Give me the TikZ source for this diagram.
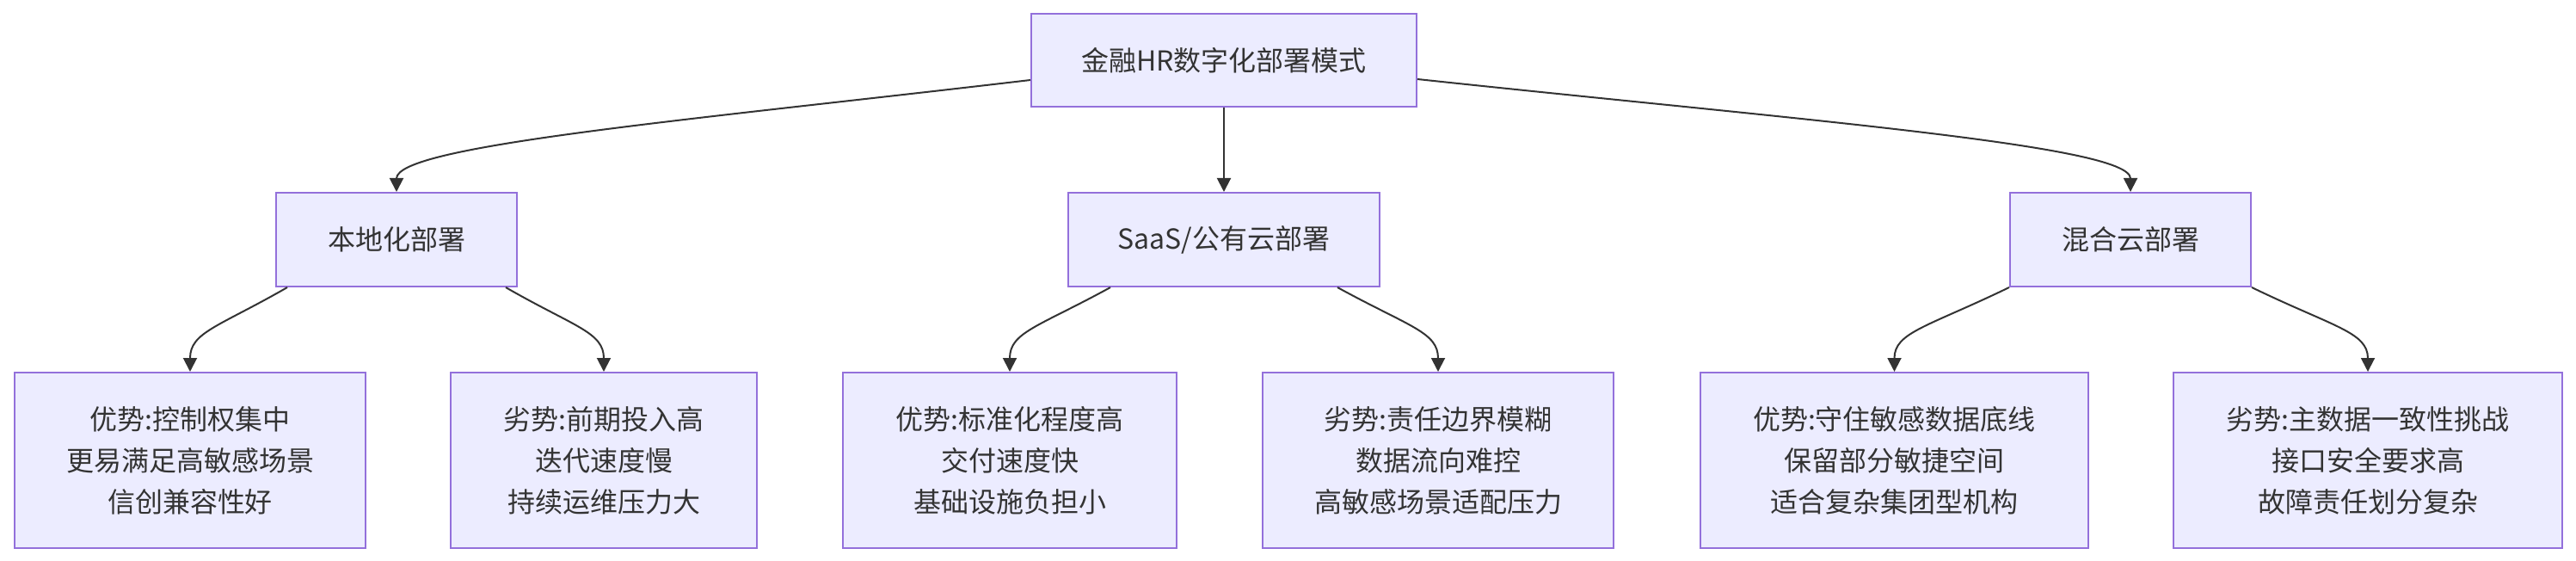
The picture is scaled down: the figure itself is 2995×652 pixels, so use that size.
\documentclass[tikz,border=0pt]{standalone}
\usepackage{fontspec}
\setmainfont{Noto Sans CJK SC}
\usetikzlibrary{arrows.meta}

\begin{document}
\begin{tikzpicture}[x=0.5pt, y=-0.5pt,
    modeBox/.style={draw=borderColour, fill=fillColour, line width=1pt, text=textColour,
        align=center, inner sep=0pt, font=\fontsize{16pt}{24pt}\selectfont},
    levelOne/.style={modeBox, minimum height=54.5pt},
    levelTwo/.style={modeBox, minimum height=102pt},
    link/.style={draw=lineColour, line width=1pt, -{Triangle[length=8pt, width=8pt]}}]

    \definecolor{borderColour}{HTML}{9370DB}
    \definecolor{fillColour}{HTML}{ECECFF}
    \definecolor{lineColour}{HTML}{333333}
    \definecolor{textColour}{HTML}{333333}

    % Fix the canvas size
    \useasboundingbox (0,0) rectangle (2995,652);

    % Draw the root
    \node[modeBox, minimum width=224pt, minimum height=54pt] (root) at (1423,70) {金融HR数字化部署模式};

    % Draw the deployment modes
    \node[levelOne, minimum width=140pt] (local) at (461,278.5) {本地化部署};
    \node[levelOne, minimum width=181pt] (saas) at (1423,278.5) {SaaS/公有云部署};
    \node[levelOne, minimum width=140pt] (hybrid) at (2477,278.5) {混合云部署};

    % Draw the pros and cons
    \node[levelTwo, minimum width=204pt] (localPro) at (221,535) {优势:控制权集中\\更易满足高敏感场景\\信创兼容性好};
    \node[levelTwo, minimum width=178pt] (localCon) at (702,535) {劣势:前期投入高\\迭代速度慢\\持续运维压力大};
    \node[levelTwo, minimum width=194pt] (saasPro) at (1174,535) {优势:标准化程度高\\交付速度快\\基础设施负担小};
    \node[levelTwo, minimum width=204pt] (saasCon) at (1672,535) {劣势:责任边界模糊\\数据流向难控\\高敏感场景适配压力};
    \node[levelTwo, minimum width=225.5pt] (hybridPro) at (2202.5,535) {优势:守住敏感数据底线\\保留部分敏捷空间\\适合复杂集团型机构};
    \node[levelTwo, minimum width=226pt] (hybridCon) at (2753,535) {劣势:主数据一致性挑战\\接口安全要求高\\故障责任划分复杂};

    % Connect the root to the modes
    \draw[link] ([yshift=-11.5pt]root.west) .. controls +(-399,47) and +(0,-54) .. (local.north);
    \draw[link] (root.south) -- (saas.north);
    \draw[link] ([yshift=-11pt]root.east) .. controls +(450,48) and +(0,-54) .. (hybrid.north);

    % Connect the modes to the pros and cons
    \draw[link] ([xshift=7pt]local.south west) .. controls +(-80,46) and +(0,-46) .. (localPro.north);
    \draw[link] ([xshift=-7pt]local.south east) .. controls +(80,46) and +(0,-46) .. (localCon.north);
    \draw[link] ([xshift=25pt]saas.south west) .. controls +(-84,46) and +(0,-46) .. (saasPro.north);
    \draw[link] ([xshift=-25pt]saas.south east) .. controls +(84,46) and +(0,-46) .. (saasCon.north);
    \draw[link] (hybrid.south west) .. controls +(-95,46) and +(0,-46) .. (hybridPro.north);
    \draw[link] (hybrid.south east) .. controls +(95,46) and +(0,-46) .. (hybridCon.north);

\end{tikzpicture}
\end{document}
